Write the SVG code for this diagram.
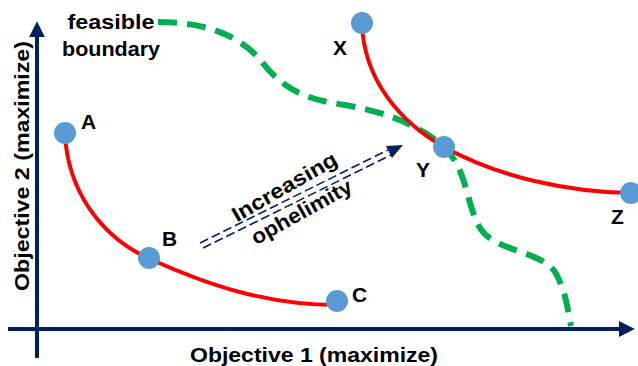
<svg xmlns="http://www.w3.org/2000/svg" width="638" height="366" viewBox="0 0 638 366">
<style>
text{font-family:"Liberation Sans",Arial,sans-serif;font-weight:bold;fill:#000;}
.lbl{font-size:21px;}
.axlbl{font-size:21px;}
.pt{fill:#5b9bd5;}
.red{fill:none;stroke:#ff0000;stroke-width:4;}
.axis{stroke:#002060;stroke-width:4;fill:none;}
.dd{stroke:#002060;stroke-width:1.6;stroke-dasharray:9,4;}
</style>
<defs>
<marker id="axhead" viewBox="0 0 10 10" refX="2" refY="5" markerWidth="4" markerHeight="4" orient="auto" markerUnits="strokeWidth">
<path d="M0,0 L10,5 L0,10 z" fill="#002060"/>
</marker>
</defs>
<g id="axes">
<line class="axis" x1="37" y1="358" x2="37" y2="34" marker-end="url(#axhead)"/>
<line class="axis" x1="8" y1="329" x2="622" y2="329" marker-end="url(#axhead)"/>
<text class="axlbl" x="314" y="362" text-anchor="middle" textLength="248" lengthAdjust="spacingAndGlyphs">Objective 1 (maximize)</text>
<text class="axlbl" transform="translate(29,166) rotate(-90)" text-anchor="middle" textLength="250" lengthAdjust="spacingAndGlyphs">Objective 2 (maximize)</text>
</g>
<g id="connectors">
<path id="boundary" d="M158,22 C205,22 240,35 262,62 C285,92 310,100 345,105 C385,112 420,125 444,147 C468,170 466,205 480,228 C495,252 540,250 555,272 C566,290 568,312 571,326" fill="none" stroke="#00b050" stroke-width="6" stroke-dasharray="19,10"/>
<path id="curveABC" class="red" d="M65,135 C68,190 100,236 148,258 C205,284 265,305 337,305"/>
<path id="curveXYZ" class="red" d="M362,24 C364,80 400,122 444,147 C500,178 570,192 630,193"/>
<g id="ophelimity-arrow">
<line class="dd" x1="200" y1="243" x2="388" y2="150"/>
<line class="dd" x1="203" y1="248" x2="391" y2="155"/>
<polygon points="403,145 386,146 392,158" fill="#002060"/>
</g>
</g>
<g id="feasible-label">
<text class="lbl" x="111" y="29" text-anchor="middle" textLength="87" lengthAdjust="spacingAndGlyphs">feasible</text>
<text class="lbl" x="111" y="56" text-anchor="middle" textLength="98" lengthAdjust="spacingAndGlyphs">boundary</text>
</g>
<g id="ophelimity-label">
<text class="lbl" transform="translate(288,193) rotate(-30)" text-anchor="middle" textLength="118" lengthAdjust="spacingAndGlyphs">Increasing</text>
<text class="lbl" transform="translate(305,218) rotate(-29)" text-anchor="middle" textLength="112" lengthAdjust="spacingAndGlyphs">ophelimity</text>
</g>
<g id="A"><circle class="pt" cx="65" cy="133" r="11"/><text class="lbl" x="81" y="129">A</text></g>
<g id="B"><circle class="pt" cx="149" cy="258" r="11"/><text class="lbl" x="162" y="246">B</text></g>
<g id="C"><circle class="pt" cx="337" cy="301" r="11"/><text class="lbl" x="352" y="302">C</text></g>
<g id="X"><circle class="pt" cx="362" cy="23" r="11"/><text class="lbl" x="333" y="55">X</text></g>
<g id="Y"><circle class="pt" cx="444" cy="147" r="11"/><text class="lbl" x="416" y="177">Y</text></g>
<g id="Z"><circle class="pt" cx="631" cy="193" r="11"/><text class="lbl" x="611" y="224">Z</text></g>
</svg>
